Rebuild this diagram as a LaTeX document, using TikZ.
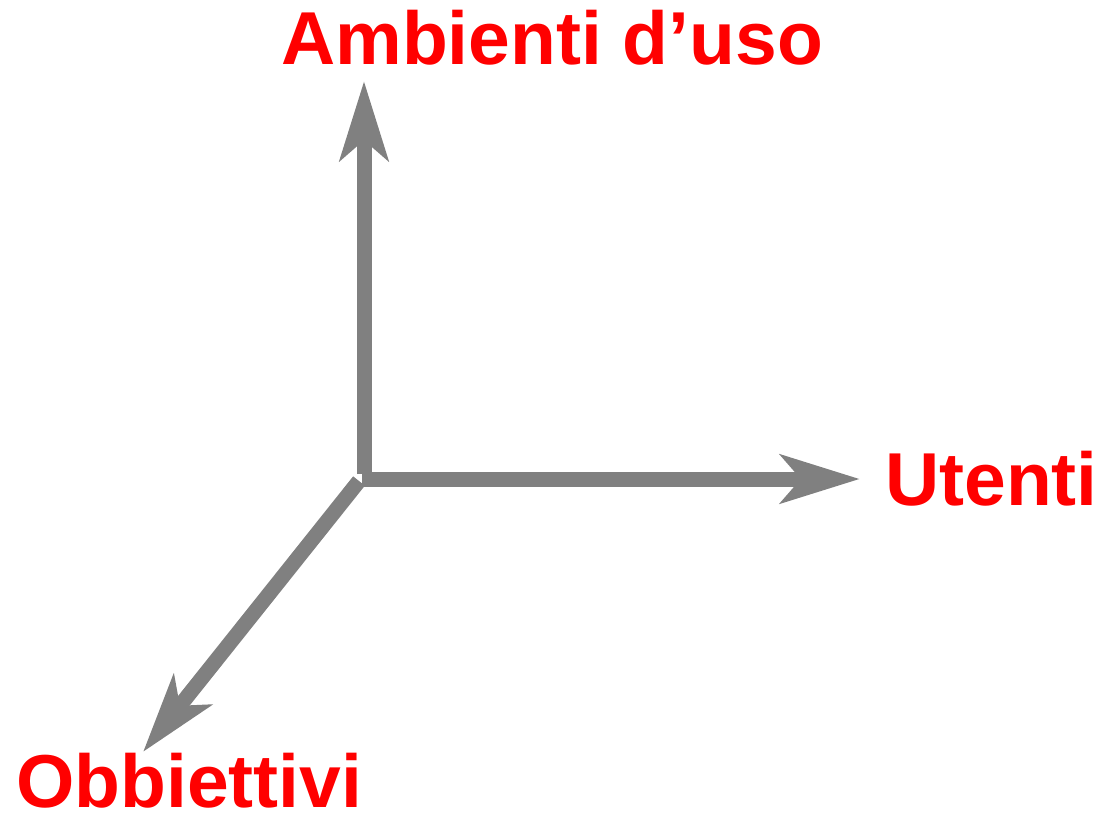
\documentclass[tikz,border=0pt]{standalone}
\usepackage{fontspec}
\setmainfont{Liberation Sans}
\usetikzlibrary{arrows.meta}
\begin{document}
\begin{tikzpicture}[x=1pt,y=-1pt,
  axis/.style={draw={rgb,255:red,128;green,128;blue,128}, line width=15pt,
    -{Stealth[length=79pt,width=48pt,inset=20pt]}},
  axislabel/.style={text=red, font=\fontsize{75}{80}\selectfont\bfseries,
    inner sep=0pt, anchor=base west}]
  \useasboundingbox (0,0) rectangle (1099,820);
  % axis origin and end points
  \coordinate (ov) at (364,474);
  \coordinate (oh) at (362,479);
  \coordinate (od) at (359,481);
  \coordinate (top) at (364,81);
  \coordinate (right) at (860,479);
  \coordinate (down) at (143,752);
  % axes
  \draw[axis] (ov) -- (top);
  \draw[axis] (oh) -- (right);
  \draw[axis] (od) -- (down);
  % labels
  \node[axislabel] (ambienti) at (281,64) {Ambienti d’uso};
  \node[axislabel] (utenti) at (885,505) {Utenti};
  \node[axislabel] (obiettivi) at (16,807) {Obbiettivi};
\end{tikzpicture}
\end{document}
